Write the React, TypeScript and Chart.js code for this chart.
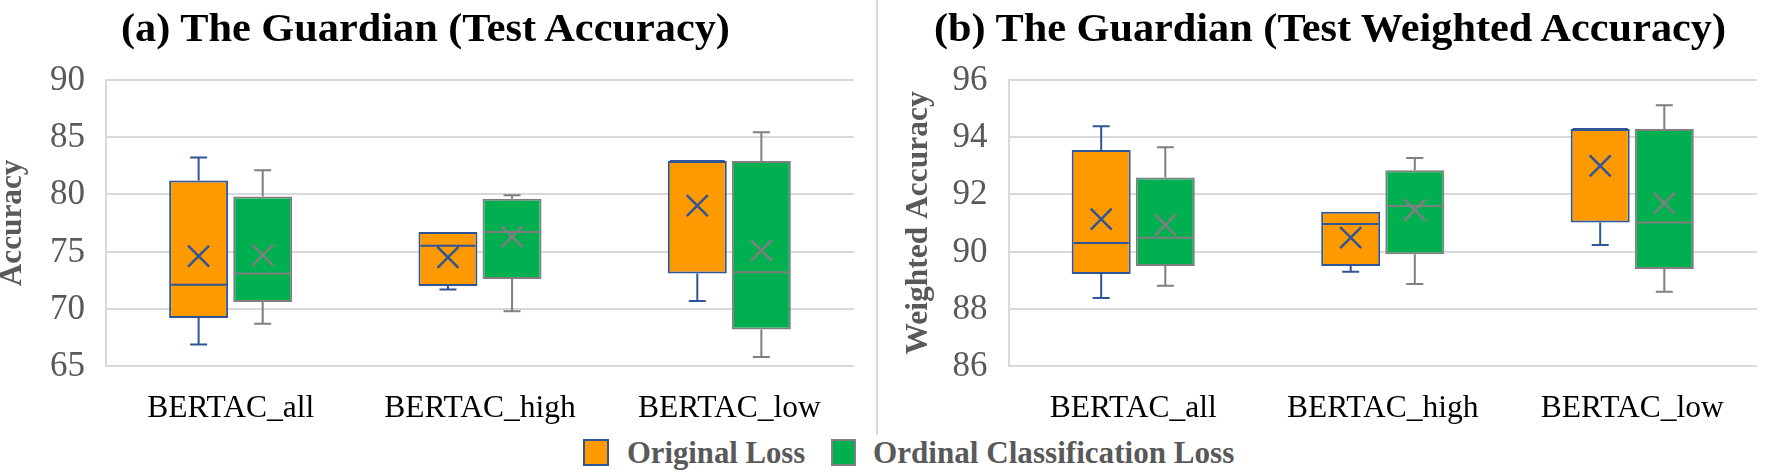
import React, { useEffect, useLayoutEffect, useRef } from "react";
import { Chart, registerables } from "chart.js";

Chart.register(...registerables);

const FONT = "'Liberation Serif', 'Times New Roman', serif";

// ---------- data ----------
const categories = ["BERTAC_all", "BERTAC_high", "BERTAC_low"];
const seriesNames = ["Original Loss", "Ordinal Classification Loss"];

// (a) Test Accuracy — Original Loss
const accOrigMin = [66.9, 71.7, 70.7];
const accOrigQ1 = [69.2, 72.0, 73.1];
const accOrigMedian = [72.1, 75.5, 82.9];
const accOrigQ3 = [81.2, 76.7, 82.9];
const accOrigMax = [83.2, 76.7, 82.9];
const accOrigMean = [74.6, 74.5, 79.0];
// (a) Test Accuracy — Ordinal Classification Loss
const accOrdMin = [68.7, 69.8, 65.8];
const accOrdQ1 = [70.6, 72.6, 68.2];
const accOrdMedian = [73.1, 76.7, 73.2];
const accOrdQ3 = [79.8, 79.6, 82.9];
const accOrdMax = [82.1, 79.9, 85.4];
const accOrdMean = [74.7, 76.3, 75.1];

// (b) Test Weighted Accuracy — Original Loss
const wAccOrigMin = [88.38, 89.3, 90.23];
const wAccOrigQ1 = [89.22, 89.5, 91.01];
const wAccOrigMedian = [90.3, 90.96, 94.27];
const wAccOrigQ3 = [93.54, 91.39, 94.27];
const wAccOrigMax = [94.37, 91.39, 94.27];
const wAccOrigMean = [91.13, 90.49, 92.99];
// (b) Test Weighted Accuracy — Ordinal Classification Loss
const wAccOrdMin = [88.81, 88.87, 88.6];
const wAccOrdQ1 = [89.5, 89.91, 89.39];
const wAccOrdMedian = [90.48, 91.59, 91.01];
const wAccOrdQ3 = [92.58, 92.84, 94.27];
const wAccOrdMax = [93.64, 93.26, 95.1];
const wAccOrdMean = [90.93, 91.45, 91.69];

// tick labels
const accTickValues = [65, 70, 75, 80, 85, 90];
const wAccTickValues = [86, 88, 90, 92, 94, 96];

// ---------- styles ----------
const ORANGE = "#FF9900";
const BLUE = "#2F5597";
const GREEN = "#00B050";
const GRAY = "#7F7F7F";
const GRID = "#D9D9D9";
const TEXT_GRAY = "#595959";

type Box = {
  name: string;
  min: number[];
  q1: number[];
  median: number[];
  q3: number[];
  max: number[];
  mean: number[];
  fill: string;
  line: string;
};

const accBoxes: Box[] = [
  { name: seriesNames[0], min: accOrigMin, q1: accOrigQ1, median: accOrigMedian, q3: accOrigQ3, max: accOrigMax, mean: accOrigMean, fill: ORANGE, line: BLUE },
  { name: seriesNames[1], min: accOrdMin, q1: accOrdQ1, median: accOrdMedian, q3: accOrdQ3, max: accOrdMax, mean: accOrdMean, fill: GREEN, line: GRAY },
];
const wAccBoxes: Box[] = [
  { name: seriesNames[0], min: wAccOrigMin, q1: wAccOrigQ1, median: wAccOrigMedian, q3: wAccOrigQ3, max: wAccOrigMax, mean: wAccOrigMean, fill: ORANGE, line: BLUE },
  { name: seriesNames[1], min: wAccOrdMin, q1: wAccOrdQ1, median: wAccOrdMedian, q3: wAccOrdQ3, max: wAccOrdMax, mean: wAccOrdMean, fill: GREEN, line: GRAY },
];

const AREA_TOP = 79.5;
const AREA_BOTTOM = 366.3;

type ChartProps = {
  left: number;
  width: number;
  height: number;
  boxes: Box[];
  tickValues: number[];
  yTitle: string;
  axisWidth: number;
  padRight: number;
  titleBaselineX: number;
  titleLength: number;
};

function BoxChart(p: ChartProps) {
  const ref = useRef<HTMLCanvasElement>(null);
  useEffect(() => {
    const canvas = ref.current;
    if (!canvas) return;
    const boxes = p.boxes;
    const extras = {
      id: "boxplotExtras",
      afterDatasetsDraw(chart: any) {
        const ctx = chart.ctx;
        const ys = chart.scales.y;
        const py = (v: number) => ys.getPixelForValue(v);
        boxes.forEach((b, di) => {
          const meta = chart.getDatasetMeta(di);
          meta.data.forEach((el: any, j: number) => {
            const x = el.x;
            const half = el.width / 2;
            const cap = 8.5;
            ctx.save();
            ctx.strokeStyle = b.line;
            ctx.lineWidth = 2;
            ctx.beginPath();
            if (b.max[j] > b.q3[j]) {
              ctx.moveTo(x, py(b.q3[j]));
              ctx.lineTo(x, py(b.max[j]));
              ctx.moveTo(x - cap, py(b.max[j]));
              ctx.lineTo(x + cap, py(b.max[j]));
            }
            if (b.min[j] < b.q1[j]) {
              ctx.moveTo(x, py(b.q1[j]));
              ctx.lineTo(x, py(b.min[j]));
              ctx.moveTo(x - cap, py(b.min[j]));
              ctx.lineTo(x + cap, py(b.min[j]));
            }
            ctx.moveTo(x - half + 2, py(b.median[j]));
            ctx.lineTo(x + half - 2, py(b.median[j]));
            ctx.stroke();
            const m = 10.5;
            const my = py(b.mean[j]);
            ctx.lineWidth = 2.5;
            ctx.beginPath();
            ctx.moveTo(x - m, my - m);
            ctx.lineTo(x + m, my + m);
            ctx.moveTo(x + m, my - m);
            ctx.lineTo(x - m, my + m);
            ctx.stroke();
            ctx.restore();
          });
        });
      },
      afterDraw(chart: any) {
        const ctx = chart.ctx;
        const ys = chart.scales.y;
        const area = chart.chartArea;
        ctx.save();
        ctx.fillStyle = TEXT_GRAY;
        ctx.font = `35px ${FONT}`;
        ctx.textAlign = "right";
        ctx.textBaseline = "middle";
        ys.ticks.forEach((t: any) => {
          const y = ys.getPixelForValue(t.value);
          ctx.fillText(String(t.value), area.left - 21, y + 1);
        });
        ctx.font = `bold 31px ${FONT}`;
        const w = ctx.measureText(p.yTitle).width;
        ctx.translate(p.titleBaselineX, (area.top + area.bottom) / 2);
        ctx.rotate(-Math.PI / 2);
        ctx.scale(p.titleLength / w, 1);
        ctx.textAlign = "center";
        ctx.textBaseline = "alphabetic";
        ctx.fillText(p.yTitle, 0, 0);
        ctx.restore();
      },
    };

    const chart = new Chart(canvas, {
      type: "bar",
      data: {
        labels: categories,
        datasets: boxes.map((b) => ({
          label: b.name,
          data: b.q1.map((v, i) => [v, b.q3[i]]),
          backgroundColor: b.fill,
          borderColor: b.line,
          borderWidth: 2,
          borderSkipped: false,
          categoryPercentage: 0.514,
          barPercentage: 0.92,
        })),
      } as any,
      options: {
        responsive: true,
        maintainAspectRatio: false,
        animation: false,
        layout: { padding: { left: 0, right: p.padRight, top: AREA_TOP, bottom: 0 } },
        plugins: {
          legend: { display: false },
          tooltip: { enabled: false },
          title: { display: false },
        },
        scales: {
          x: {
            grid: { display: false, drawTicks: false },
            border: { display: false },
            ticks: {
              color: "#000000",
              font: { family: FONT, size: 31.5 },
              padding: 23.3,
              maxRotation: 0,
              autoSkip: false,
            },
            afterFit: (s: any) => {
              s.height = p.height - AREA_BOTTOM;
            },
          },
          y: {
            min: p.tickValues[0],
            max: p.tickValues[p.tickValues.length - 1],
            grid: { color: GRID, lineWidth: 2, drawTicks: false },
            border: { display: true, color: GRID, width: 2 },
            ticks: { display: false },
            afterBuildTicks: (s: any) => {
              s.ticks = p.tickValues.map((v) => ({ value: v }));
            },
            afterFit: (s: any) => {
              s.width = p.axisWidth;
            },
          },
        },
      } as any,
      plugins: [extras],
    });
    return () => chart.destroy();
  }, []);
  return (
    <div style={{ position: "absolute", left: p.left, top: 0, width: p.width, height: p.height }}>
      <canvas ref={ref} />
    </div>
  );
}

function StretchText(props: {
  text: string;
  left: number;
  baseline: number;
  width: number;
  size: number;
  color: string;
  weight: string;
}) {
  const ref = useRef<HTMLSpanElement>(null);
  useLayoutEffect(() => {
    const el = ref.current;
    if (!el) return;
    const natural = el.offsetWidth;
    if (natural > 0) el.style.transform = `scaleX(${props.width / natural})`;
  }, [props.text, props.width]);
  return (
    <span
      ref={ref}
      style={{
        position: "absolute",
        left: props.left,
        top: props.baseline - 0.8375 * props.size,
        fontFamily: FONT,
        fontSize: props.size,
        fontWeight: props.weight as any,
        lineHeight: 1,
        whiteSpace: "nowrap",
        color: props.color,
        transformOrigin: "0 0",
      }}
    >
      {props.text}
    </span>
  );
}

function LegendBox(props: { left: number; fill: string; line: string }) {
  return (
    <div
      style={{
        position: "absolute",
        left: props.left,
        top: 439,
        width: 25.5,
        height: 27,
        boxSizing: "border-box",
        background: props.fill,
        border: `2px solid ${props.line}`,
      }}
    />
  );
}

export default function App() {
  return (
    <div
      style={{
        position: "fixed",
        left: 0,
        top: 0,
        width: 1767,
        height: 473,
        background: "#ffffff",
        overflow: "hidden",
      }}
    >
      <BoxChart
        left={0}
        width={876}
        height={430}
        boxes={accBoxes}
        tickValues={accTickValues}
        yTitle="Accuracy"
        axisWidth={106}
        padRight={22}
        titleBaselineX={21}
        titleLength={126.7}
      />
      <BoxChart
        left={880}
        width={887}
        height={430}
        boxes={wAccBoxes}
        tickValues={wAccTickValues}
        yTitle="Weighted Accuracy"
        axisWidth={128.5}
        padRight={10}
        titleBaselineX={46.6}
        titleLength={263.3}
      />
      <div style={{ position: "absolute", left: 876, top: 0, width: 2, height: 435, background: GRID }} />
      <StretchText text="(a) The Guardian (Test Accuracy)" left={120.6} baseline={41} width={609} size={41} color="#000000" weight="bold" />
      <StretchText text="(b) The Guardian (Test Weighted Accuracy)" left={933.7} baseline={41} width={792} size={41} color="#000000" weight="bold" />
      <LegendBox left={583} fill={ORANGE} line={BLUE} />
      <StretchText text={seriesNames[0]} left={626.7} baseline={463} width={178.3} size={32} color={TEXT_GRAY} weight="bold" />
      <LegendBox left={830.5} fill={GREEN} line={GRAY} />
      <StretchText text={seriesNames[1]} left={873.3} baseline={463} width={361.7} size={32} color={TEXT_GRAY} weight="bold" />
    </div>
  );
}
